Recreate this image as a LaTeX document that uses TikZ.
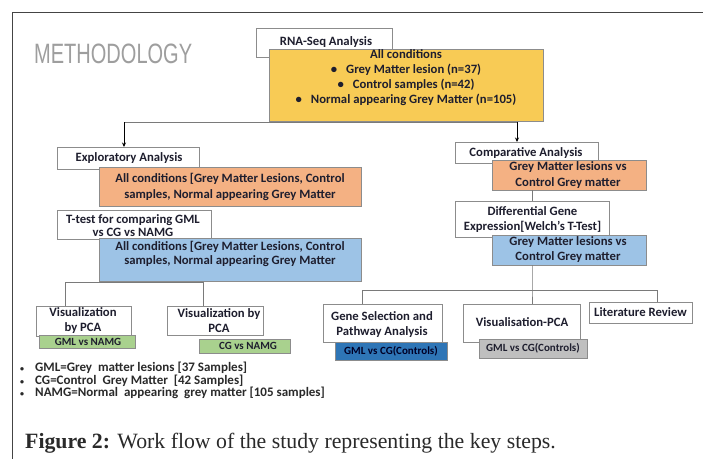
\documentclass[tikz,border=0pt]{standalone}
\usepackage{fontspec}
\setmainfont{Carlito}
\newfontfamily\capfont{Liberation Serif}
\newfontfamily\headfont{Liberation Sans}
\usetikzlibrary{arrows.meta}
\newcommand{\fsz}[2]{\fontsize{#1}{#2}\selectfont}
\definecolor{boxline}{HTML}{8C8C8C}
\definecolor{connline}{HTML}{7A7A7A}
\definecolor{txtcol}{HTML}{1E1E2E}
\definecolor{yel}{HTML}{F8CB55}
\definecolor{orng}{HTML}{F4B183}
\definecolor{lblue}{HTML}{9DC3E6}
\definecolor{lgreen}{HTML}{A9D18E}
\definecolor{lgray}{HTML}{BFBFBF}
\definecolor{dblue}{HTML}{2E75B6}
\definecolor{headcol}{HTML}{9E9E9E}
\definecolor{capcol}{HTML}{2A2A2A}
\definecolor{framecol}{HTML}{444444}
\begin{document}
\begin{tikzpicture}[x=1pt,y=-1pt,
  box/.style={draw=boxline, line width=0.8pt, anchor=north west, inner sep=0, outer sep=0},
  wbox/.style={box, fill=white},
  txt/.style={inner sep=0, font=\bfseries\fsz{12.7}{15}, text=txtcol, align=center},
  conn/.style={draw=connline, line width=0.8pt},
  arr/.style={draw=black, line width=0.7pt, -{Stealth[length=4.5pt,width=4pt]}},
  leg/.style={inner sep=0, anchor=mid west, font=\bfseries\fsz{13}{14}, text=capcol},
  legb/.style={inner sep=0, anchor=mid west, font=\bfseries\fsz{8}{10}, text=capcol}
]
\useasboundingbox (0,0) rectangle (703,459);
\fill[white] (0,0) rectangle (703,459);
\draw[framecol, line width=0.9pt] (703,12) -- (12,12) -- (12,459);

% title
\node[inner sep=0, anchor=base west, text=headcol, font=\headfont\fsz{28}{28}] (title) at (34,63) {\scalebox{0.715}[1]{METHODOLOGY}};

% coordinates for connectors
\coordinate (brL) at (124,122);
\coordinate (brR) at (517,122);
\coordinate (b1L) at (65,282);
\coordinate (b1R) at (203,282);
\coordinate (br2) at (532,290);
\coordinate (b2L) at (362,290);
\coordinate (b2R) at (657,290);

% boxes (white ones first, then coloured overlapping ones)
\node[wbox, minimum width=136, minimum height=29] (rna) at (256,28) {};
\node[txt] (trna) at (326,42.5) {RNA-Seq Analysis};
\node[box, fill=yel, minimum width=274, minimum height=72] (all) at (269,49) {};
\node[txt] (tall) at (406,78) {All conditions\\
\textbullet\hspace{9pt}Grey Matter lesion (n=37)\\
\textbullet\hspace{9pt}Control samples (n=42)\\
\textbullet\hspace{9pt}Normal appearing Grey Matter (n=105)};

% top bracket
\draw[conn] (brL) -- (brR);
\node[wbox, minimum width=142, minimum height=22] (expl) at (57,147) {};
\node[wbox, minimum width=143, minimum height=21] (comp) at (455,142) {};
\draw[arr] (brL) -- (brL |- expl.north);
\draw[arr] (brR) -- (brR |- comp.north);

% left branch
\node[txt] (texpl) at (129,158) {Exploratory Analysis};
\node[box, fill=orng, minimum width=262, minimum height=39] (or1) at (99,167) {};
\node[txt, font=\bfseries\fsz{12.7}{16}] (tor1) at (230,187) {All conditions [Grey Matter Lesions, Control\\samples, Normal appearing Grey Matter};
\node[wbox, minimum width=154, minimum height=29] (ttest) at (57,210) {};
\node[box, fill=lblue, minimum width=262, minimum height=43] (bl1) at (99,238) {};
\node[txt, font=\bfseries\fsz{12.7}{12.5}] (tttest) at (133,225.5) {T-test for comparing GML\\vs CG vs NAMG};
\node[txt, font=\bfseries\fsz{12.7}{14}] (tbl1) at (230,253.5) {All conditions [Grey Matter Lesions, Control\\samples, Normal appearing Grey Matter};

\node[wbox, minimum width=95, minimum height=30] (viz1) at (36,306) {};
\node[wbox, minimum width=96, minimum height=29] (viz2) at (167,306) {};
\draw[conn] (b1L |- viz1.north) -- (b1L) -- (b1R) -- (b1R |- viz2.north);
\node[txt] (tviz1) at (83,320.5) {Visualization\\by PCA};
\node[txt] (tviz2) at (219,321) {Visualization by\\PCA};
\node[box, fill=lgreen, minimum width=96, minimum height=13] (gr1) at (39,335) {};
\node[txt, font=\bfseries\fsz{11}{12}] (tgr1) at (88,341.5) {GML vs NAMG};
\node[box, fill=lgreen, minimum width=91, minimum height=14] (gr2) at (199,339) {};
\node[txt, font=\bfseries\fsz{11}{12}] (tgr2) at (248,346) {CG vs NAMG};

% right branch
\node[txt] (tcomp) at (526,153) {Comparative Analysis};
\node[box, fill=orng, minimum width=154, minimum height=30] (or2) at (492,160) {};
\node[txt, font=\bfseries\fsz{12.7}{16}] (tor2) at (568,175) {Grey Matter lesions vs\\Control Grey matter};
\node[wbox, minimum width=154, minimum height=36] (diff) at (455,201) {};
\draw[conn] (diff.north |- or2.south) -- (diff.north);
\node[txt] (tdiff) at (532.5,219.5) {Differential Gene\\Expression[Welch’s T-Test]};
\node[box, fill=lblue, minimum width=154, minimum height=30] (bl2) at (492,235) {};
\node[txt, font=\bfseries\fsz{12.7}{15}] (tbl2) at (568,249.5) {Grey Matter lesions vs\\Control Grey matter};

\node[wbox, minimum width=119, minimum height=38] (gene) at (323,304) {};
\node[wbox, minimum width=117, minimum height=38] (vizpca) at (463,304) {};
\node[wbox, minimum width=103, minimum height=21] (lit) at (589,302) {};
\draw[conn] (diff.north |- bl2.south) -- (br2) -- (br2 |- vizpca.north);
\draw[conn] (b2L |- gene.north) -- (b2L) -- (b2R) -- (b2R |- lit.north);
\node[txt] (tgene) at (382,324.5) {Gene Selection and\\Pathway Analysis};
\node[txt] (tvizpca) at (522,322) {Visualisation-PCA};
\node[txt] (tlit) at (640.5,312) {Literature Review};
\node[box, fill=dblue, minimum width=112, minimum height=18] (dbl) at (335,342) {};
\node[txt, font=\bfseries\fsz{11}{12}, text=black!85!blue] (tdbl) at (391,351) {GML vs CG(Controls)};
\node[box, fill=lgray, minimum width=108, minimum height=19] (gry) at (479,339) {};
\node[txt, font=\bfseries\fsz{11}{12}] (tgry) at (533,348.5) {GML vs CG(Controls)};

% legend
\node[legb] (lb1) at (20,369.3) {\textbullet};
\node[leg] (lt1) at (35,369.3) {GML=Grey\ \ matter lesions [37 Samples]};
\node[legb] (lb2) at (20,381.7) {\textbullet};
\node[leg] (lt2) at (35,381.7) {CG=Control\ \ Grey Matter\ \ [42 Samples]};
\node[legb] (lb3) at (20,394.3) {\textbullet};
\node[leg] (lt3) at (35,394.3) {NAMG=Normal\ \ appearing\ \ grey matter [105 samples]};

% caption
\node[inner sep=0, anchor=base west, text=capcol, font=\capfont\fsz{21.8}{22}] (cap) at (25,448) {\textbf{Figure 2:} Work flow of the study representing the key steps.};
\end{tikzpicture}
\end{document}
